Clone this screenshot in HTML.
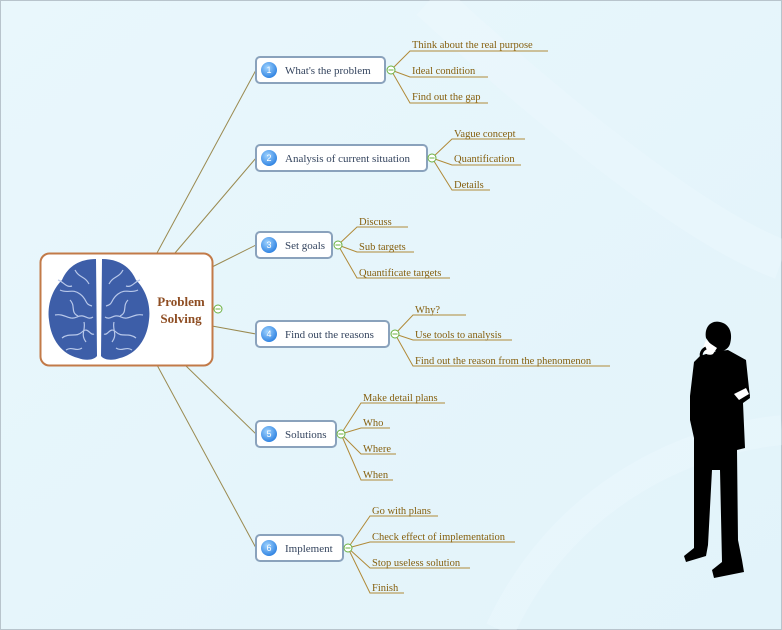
<!DOCTYPE html>
<html><head><meta charset="utf-8"><style>
body{margin:0;width:782px;height:630px;overflow:hidden;}
svg{display:block}
.l{font-family:"Liberation Serif",serif;font-size:10.5px;fill:#86600f}
.n{font-family:"Liberation Serif",serif;font-size:11px;fill:#34445e}
</style></head><body>
<svg width="782" height="630" viewBox="0 0 782 630">
<defs>
<linearGradient id="bg" x1="0" y1="0" x2="1" y2="1"><stop offset="0" stop-color="#e9f7fc"/><stop offset="1" stop-color="#e2f3fa"/></linearGradient>
<radialGradient id="ball" cx="0.4" cy="0.35" r="0.7"><stop offset="0" stop-color="#9fd3ff"/><stop offset="1" stop-color="#2a7fe0"/></radialGradient>
</defs>
<rect x="0.5" y="0.5" width="781" height="629" fill="url(#bg)" stroke="#b8c4cc"/>
<path d="M430 0 C560 120 700 230 782 260" stroke="#f2fbff" stroke-width="40" fill="none" opacity="0.25"/>
<path d="M500 630 C560 500 680 440 782 430" stroke="#f2fbff" stroke-width="30" fill="none" opacity="0.25"/>
<g stroke="#9a8a50" stroke-width="1" fill="none">
<line x1="157" y1="253" x2="256" y2="70"/>
<line x1="175" y1="253" x2="256" y2="158"/>
<line x1="212" y1="267" x2="256" y2="245"/>
<line x1="212" y1="326" x2="256" y2="334"/>
<line x1="185" y1="365" x2="256" y2="434"/>
<line x1="157" y1="365" x2="256" y2="548"/>
</g>
<g stroke="#b08a38" stroke-width="1" fill="none">
<path d="M391 70L410 51H548M391 70L410 77H488M391 70L410 103H488"/>
<path d="M432 158L452 139H525M432 158L452 165H521M432 158L452 190H490"/>
<path d="M338 245L357 227H408M338 245L357 252H414M338 245L357 278H450"/>
<path d="M395 334L413 315H466M395 334L413 340H512M395 334L413 366H610"/>
<path d="M341 434L361 403H445M341 434L361 428H390M341 434L361 454H396M341 434L361 480H393"/>
<path d="M348 548L370 516H438M348 548L370 542H515M348 548L370 568H470M348 548L370 593H404"/>
</g>
<g class="l">
<text x="412" y="48">Think about the real purpose</text>
<text x="412" y="74">Ideal condition</text>
<text x="412" y="100">Find out the gap</text>
<text x="454" y="137">Vague concept</text>
<text x="454" y="162">Quantification</text>
<text x="454" y="188">Details</text>
<text x="359" y="225">Discuss</text>
<text x="359" y="250">Sub targets</text>
<text x="359" y="276">Quantificate targets</text>
<text x="415" y="313">Why?</text>
<text x="415" y="338">Use tools to analysis</text>
<text x="415" y="364">Find out the reason from the phenomenon</text>
<text x="363" y="401">Make detail plans</text>
<text x="363" y="426">Who</text>
<text x="363" y="452">Where</text>
<text x="363" y="478">When</text>
<text x="372" y="514">Go with plans</text>
<text x="372" y="540">Check effect of implementation</text>
<text x="372" y="566">Stop useless solution</text>
<text x="372" y="591">Finish</text>
</g>
<rect x="40.5" y="253.5" width="172" height="112" rx="9" fill="#fff" stroke="#c27a48" stroke-width="2"/>
<g fill="#3d5ea8">
<path d="M96 259C80 259 68 266 62 280 52 290 47 305 49 320 51 340 62 354 78 358 86 361 94 360 97 356Z"/>
<path d="M102 259C118 259 130 266 136 280 146 290 151 305 149 320 147 340 136 354 120 358 112 361 104 360 101 356Z"/>
</g>
<g stroke="#b8c8ea" stroke-width="1.2" fill="none">
<path d="M60 290c8 4 12-2 20 4s4 10 12 12M55 315c10-2 14 6 22 2s10 4 16 0M62 338c8-6 14 0 20-6s8 4 12 2M75 270c4 8 10 6 14 14M70 300c6 6 0 12 8 16M58 280c6 2 8 8 14 6M84 322c2 8 -4 12 2 20M66 350c6-4 10 2 16-2"/>
<path d="M138 290c-8 4-12-2-20 4s-4 10-12 12M143 315c-10-2-14 6-22 2s-10 4-16 0M136 338c-8-6-14 0-20-6s-8 4-12 2M123 270c-4 8-10 6-14 14M128 300c-6 6 0 12-8 16M140 280c-6 2-8 8-14 6M114 322c-2 8 4 12-2 20M132 350c-6-4-10 2-16-2"/>
</g>
<text x="181" y="306" text-anchor="middle" font-family="Liberation Serif,serif" font-weight="bold" font-size="13" fill="#8e4d22">Problem</text>
<text x="181" y="323" text-anchor="middle" font-family="Liberation Serif,serif" font-weight="bold" font-size="13" fill="#8e4d22">Solving</text>
<g fill="#fff" stroke="#6ab040" stroke-width="1"><circle cx="218" cy="309" r="4"/></g>
<line x1="215.5" y1="309" x2="220.5" y2="309" stroke="#6ab040"/>
<g stroke="#8aa2bc" stroke-width="2" fill="#fff">
<rect x="256" y="57" width="129" height="26" rx="4"/>
<rect x="256" y="145" width="171" height="26" rx="4"/>
<rect x="256" y="232" width="76" height="26" rx="4"/>
<rect x="256" y="321" width="133" height="26" rx="4"/>
<rect x="256" y="421" width="80" height="26" rx="4"/>
<rect x="256" y="535" width="87" height="26" rx="4"/>
</g>
<g fill="url(#ball)">
<circle cx="269" cy="70" r="8"/><circle cx="269" cy="158" r="8"/><circle cx="269" cy="245" r="8"/>
<circle cx="269" cy="334" r="8"/><circle cx="269" cy="434" r="8"/><circle cx="269" cy="548" r="8"/>
</g>
<g font-family="Liberation Sans,sans-serif" font-size="9" fill="#fff" text-anchor="middle">
<text x="269" y="73">1</text><text x="269" y="161">2</text><text x="269" y="248">3</text>
<text x="269" y="337">4</text><text x="269" y="437">5</text><text x="269" y="551">6</text>
</g>
<g class="n">
<text x="285" y="74">What's the problem</text>
<text x="285" y="162">Analysis of current situation</text>
<text x="285" y="249">Set goals</text>
<text x="285" y="338">Find out the reasons</text>
<text x="285" y="438">Solutions</text>
<text x="285" y="552">Implement</text>
</g>
<g fill="#fff" stroke="#6ab040">
<circle cx="391" cy="70" r="4"/><circle cx="432" cy="158" r="4"/><circle cx="338" cy="245" r="4"/>
<circle cx="395" cy="334" r="4"/><circle cx="341" cy="434" r="4"/><circle cx="348" cy="548" r="4"/>
</g>
<g stroke="#6ab040"><path d="M388.5 70h5M429.5 158h5M335.5 245h5M392.5 334h5M338.5 434h5M345.5 548h5"/></g>
<g fill="#000">
<path d="M706 338C704 326 712 320 720 322 730 324 733 334 730 344 728 350 722 352 716 352Z"/>
<path d="M700 356L712 352 728 350 746 360 750 398 743 403 745 448 737 450 738 540 742 560 744 572 714 578 712 570 722 562 720 470 712 470 708 545 706 556 686 562 684 556 694 548 694 455 694 438 690 420 690 396 694 362Z"/>
<path d="M728 382L748 385 750 396 738 402 728 394Z"/>
</g>
<path d="M706 340l-3 8c0 6 6 8 10 6l4-6-6-4Z" fill="#fff"/>
<path d="M702 358c-2-4 0-8 4-10" stroke="#000" stroke-width="3" fill="none"/>
<path d="M734 394l12-6 3 6-10 6Z" fill="#fff"/>
</svg>
</body></html>
